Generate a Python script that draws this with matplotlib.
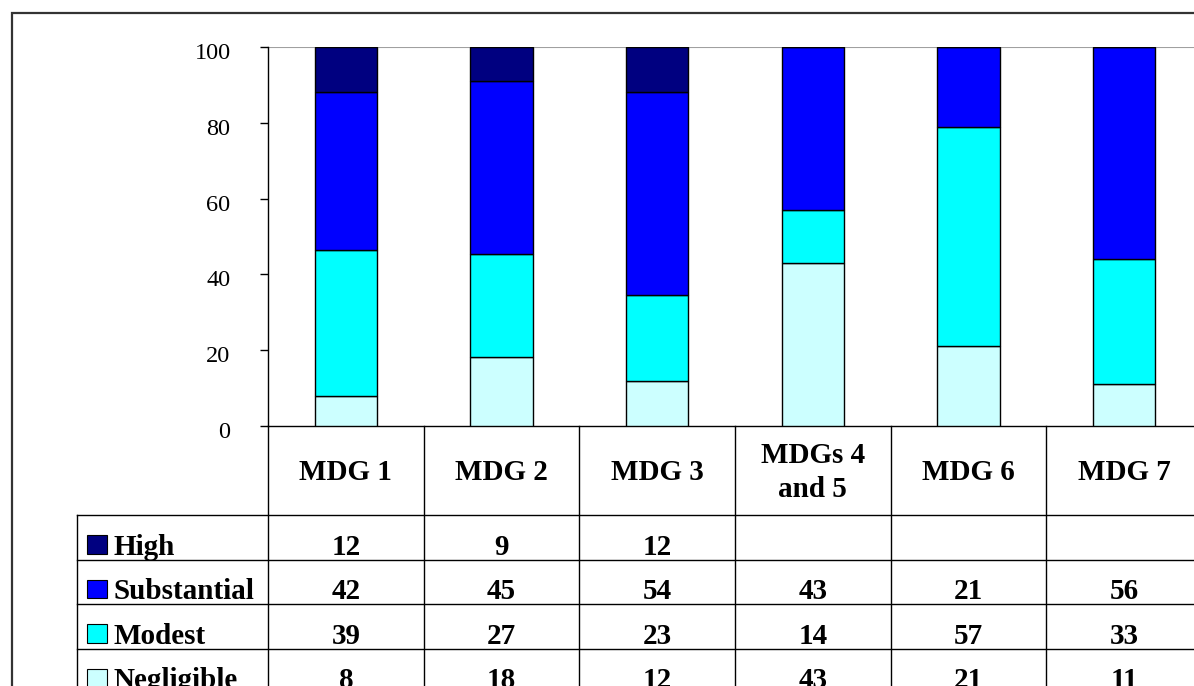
import numpy as np
import matplotlib
matplotlib.use("Agg")
import matplotlib.pyplot as plt
import matplotlib.transforms as mtransforms
from matplotlib.patches import Rectangle
from matplotlib.lines import Line2D

# data (raw counts, plotted as 100% stacked)
categories = ["MDG 1", "MDG 2", "MDG 3", "MDGs 4\nand 5", "MDG 6", "MDG 7"]
series_names = ["High", "Substantial", "Modest", "Negligible"]
high = [12, 9, 12, None, None, None]
substantial = [42, 45, 54, 43, 21, 56]
modest = [39, 27, 23, 14, 57, 33]
negligible = [8, 18, 12, 43, 21, 11]
colors = ["#000080", "#0000ff", "#00ffff", "#ccffff"]

plt.rcParams["font.family"] = ["Liberation Serif", "DejaVu Serif"]

W, H = 1194, 686
fig = plt.figure(figsize=(W / 100, H / 100), dpi=100)

# outer frame of the chart object (runs off the right and bottom)
fig.patches.append(Rectangle((12 / W, -0.1), 1.2, 1 - 13 / H + 0.1, transform=fig.transFigure,
                             fill=False, edgecolor="#333333", lw=1.6))

ax = fig.add_axes([268 / W, 1 - 426 / H, 934 / W, (426 - 47) / H])
tab = fig.add_axes([268 / W, 1 - 693 / H, 934 / W, 267 / H])

# bottom-up stacking order
stack = [negligible, modest, substantial, high]
stack_colors = colors[::-1]
vals = np.array([[0 if v is None else v for v in s] for s in stack], dtype=float)
totals = vals.sum(axis=0)
pct = vals / totals * 100
x = np.arange(len(categories))
bottom = np.zeros(len(categories))
for row, col in zip(pct, stack_colors):
    ax.bar(x, row, 0.4, bottom=bottom, color=col, edgecolor="black", linewidth=1, zorder=3)
    bottom += row

ax.set_xlim(-0.5, len(categories) - 0.5)
ax.set_ylim(0, 100)
ax.set_yticks([0, 20, 40, 60, 80, 100])
ax.tick_params(axis="y", direction="out", length=6, width=1, pad=21, labelsize=17.5)
ax.tick_params(axis="x", length=0, labelbottom=False)
shift = mtransforms.ScaledTranslation(0, -4 / 100, fig.dpi_scale_trans)
for lab in ax.get_yticklabels():
    lab.set_transform(lab.get_transform() + shift)
ax.axhline(100, color="#a0a0a0", lw=1.5, zorder=1)
for s in ["top", "right"]:
    ax.spines[s].set_visible(False)
ax.spines["left"].set_linewidth(1)
ax.spines["bottom"].set_linewidth(1)

# data table under the chart
tab.set_xlim(-0.5, len(categories) - 0.5)
tab.set_ylim(6, 0)
tab.axis("off")
left = -0.5 - 191 / (934 / len(categories))
lk = dict(color="black", lw=1, clip_on=False)
for i in range(len(categories) + 1):
    tab.add_line(Line2D([i - 0.5, i - 0.5], [0, 6], **lk))
tab.add_line(Line2D([left, left], [2, 6], **lk))
for yy in [2, 3, 4, 5, 6]:
    tab.add_line(Line2D([left, len(categories) - 0.5], [yy, yy], **lk))

for i, c in enumerate(categories):
    tab.text(i, 1.05, c, ha="center", va="center", fontsize=21, fontweight="bold",
             linespacing=1.35)

table_rows = [high, substantial, modest, negligible]
for r, (name, row, col) in enumerate(zip(series_names, table_rows, colors)):
    ybase = r + 3 - 0.11
    tab.add_patch(Rectangle((left + 0.062, ybase - 0.02), 0.128, -0.42, facecolor=col,
                            edgecolor="black", lw=0.8, clip_on=False))
    tab.text(left + 0.235, ybase, name, ha="left", va="baseline", fontsize=21,
             fontweight="bold", clip_on=False)
    for i, v in enumerate(row):
        if v is not None:
            tab.text(i, ybase, str(v), ha="center", va="baseline", fontsize=21,
                     fontweight="bold")

fig.savefig("out.png", dpi=100)
